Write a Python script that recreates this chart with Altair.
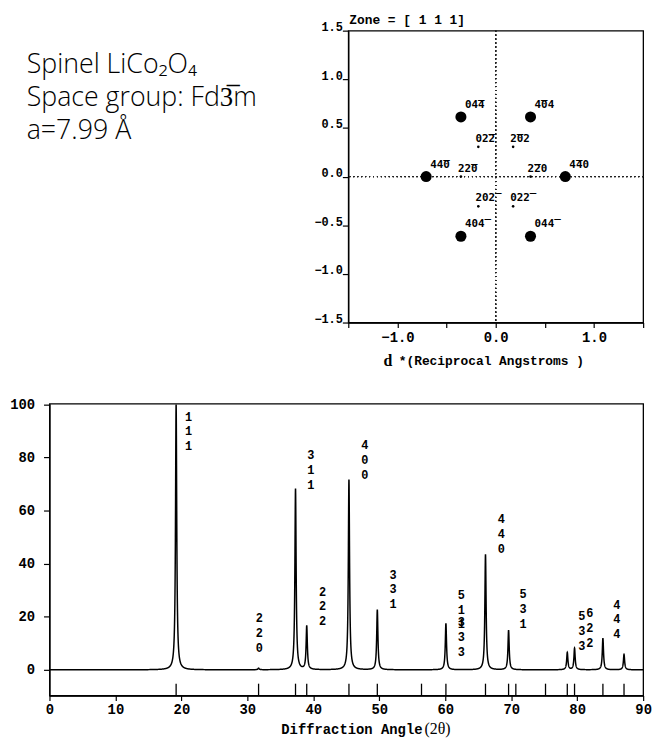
import numpy as np
import pandas as pd
import altair as alt

# ---------------- powder pattern (Cu K-alpha) ----------------
refl_hkl = ["111", "220", "311", "222", "400", "331", "422", "511",
            "440", "531", "442", "620", "533", "622", "444", "551"]
refl_2theta = [19.2, 31.7, 37.3, 39.0, 45.4, 49.7, 56.4, 60.1,
               66.1, 69.6, 70.7, 75.2, 78.5, 79.6, 83.9, 87.1]
refl_intensity = [100.0, 0.6, 68.2, 16.4, 71.7, 22.6, 0.0, 17.5,
                  43.5, 14.9, 0.0, 0.0, 6.5, 8.1, 11.9, 5.8]
peak_fwhm = 0.22  # degrees 2-theta, Lorentzian line width

# indexed labels printed next to the peaks (baseline of the top digit)
label_hkl = ["111", "220", "311", "222", "400", "331", "511", "333",
             "440", "531", "533", "622", "444"]
label_x = [21.1, 31.8, 39.6, 41.4, 47.8, 52.1, 62.45, 62.45,
           68.5, 71.8, 80.7, 81.9, 86.0]
label_y = [93.9, 17.9, 79.4, 28.0, 83.2, 34.4, 26.8, 16.4,
           55.2, 26.9, 18.6, 19.8, 23.1]

x_ticks = [0, 10, 20, 30, 40, 50, 60, 70, 80, 90]
y_ticks = [0, 20, 40, 60, 80, 100]

# ---------------- [111] zone reciprocal-lattice section ----------------
spot_hkl = [(0, -4, 4), (-4, 0, 4), (4, -4, 0), (-4, 4, 0), (4, 0, -4), (0, 4, -4),
            (0, -2, 2), (-2, 0, 2), (2, -2, 0), (-2, 2, 0), (2, 0, -2), (0, 2, -2)]
spot_x = [-0.354, 0.354, -0.708, 0.708, -0.354, 0.354,
          -0.177, 0.177, -0.354, 0.354, -0.177, 0.177]
spot_y = [0.613, 0.613, 0.0, 0.0, -0.613, -0.613,
          0.306, 0.306, 0.0, 0.0, -0.306, -0.306]
spot_kind = ["strong"] * 6 + ["weak"] * 6
zone_ticks = [-1.5, -1.0, -0.5, 0.0, 0.5, 1.0, 1.5]

MONO = "Liberation Mono"
OVERLINE = "\u0305"


def miller(idx):
    return "".join(str(abs(i)) + (OVERLINE if i < 0 else "") for i in idx)


# ---------------- build tables ----------------
tt = np.round(np.arange(0, 90.0001, 0.01), 3)
prof = np.zeros_like(tt)
for pos, amp in zip(refl_2theta, refl_intensity):
    prof += amp / (1.0 + ((tt - pos) / (peak_fwhm / 2.0)) ** 2)
profile_df = pd.DataFrame({"tt": tt, "I": prof})
refl_df = pd.DataFrame({"tt": refl_2theta, "hkl": refl_hkl})
label_df = pd.DataFrame({"x": label_x, "y": label_y,
                         "txt": ["\n".join(s) for s in label_hkl]})
spots_df = pd.DataFrame({"x": spot_x, "y": spot_y, "kind": spot_kind,
                         "label": [miller(s) for s in spot_hkl]})

# ---------------- diffraction pattern panel ----------------
xs = alt.Scale(domain=[0, 90], nice=False, zero=False)
ys = alt.Scale(domain=[-9.7, 100.3], nice=False, zero=False)
x_axis = alt.Axis(values=x_ticks, title="", tickSize=5, labelPadding=2,
                  labelFontSize=14, labelFlush=False)
y_axis = alt.Axis(values=y_ticks, title="", tickSize=6, labelPadding=9,
                  labelFontSize=14, labelBaseline="middle")

profile = alt.Chart(profile_df).mark_line(color="black", strokeWidth=1.5).encode(
    x=alt.X("tt:Q", scale=xs, axis=x_axis),
    y=alt.Y("I:Q", scale=ys, axis=y_axis),
)
refl_ticks = alt.Chart(refl_df).mark_rule(color="black", strokeWidth=1.3).encode(
    x=alt.X("tt:Q", scale=xs),
    y=alt.value(283),
    y2=alt.value(295),
)
hkl_labels = alt.Chart(label_df).mark_text(
    lineBreak="\n", lineHeight=15, align="center", baseline="alphabetic",
    font=MONO, fontWeight="bold", fontSize=12, color="black",
).encode(x=alt.X("x:Q", scale=xs), y=alt.Y("y:Q", scale=ys), text="txt:N")

xtitle_a = alt.Chart(pd.DataFrame({"t": ["Diffraction Angle"]})).mark_text(
    align="right", baseline="alphabetic", font=MONO, fontWeight="bold",
    fontSize=14, color="black",
).encode(x=alt.value(377), y=alt.value(334), text="t:N")
xtitle_b = alt.Chart(pd.DataFrame({"t": ["(2\u03b8)"]})).mark_text(
    align="left", baseline="alphabetic", font="Liberation Serif",
    fontSize=16, color="black",
).encode(x=alt.value(379), y=alt.value(334), text="t:N")

xrd = alt.layer(profile, refl_ticks, hkl_labels, xtitle_a, xtitle_b).properties(
    width=600, height=295)

# ---------------- zone panel ----------------
zx = alt.Scale(domain=[-1.5, 1.5], nice=False, zero=False)
zy = alt.Scale(domain=[-1.5, 1.5], nice=False, zero=False)
zx_axis = alt.Axis(values=zone_ticks, title="", tickSize=5, labelPadding=3,
                   labelFontSize=14, labelFlush=False,
                   labelExpr="datum.value % 1 == 0 ? format(datum.value, '.1f') : ''")
zy_axis = alt.Axis(values=zone_ticks, title="", tickSize=6, labelPadding=0,
                   labelFontSize=12, format=".1f", labelBaseline="alphabetic",
                   labelFlush=False)

zbase = alt.Chart(spots_df)
vline = zbase.mark_rule(color="#222", strokeWidth=1, strokeDash=[1, 3]).encode(
    x=alt.datum(0, scale=zx, axis=zx_axis))
hline = zbase.mark_rule(color="#222", strokeWidth=1, strokeDash=[1, 3]).encode(
    y=alt.datum(0, scale=zy, axis=zy_axis))
strong = zbase.transform_filter("datum.kind == 'strong'").mark_circle(
    size=125, color="black", opacity=1).encode(
    x=alt.X("x:Q", scale=zx, axis=zx_axis), y=alt.Y("y:Q", scale=zy, axis=zy_axis))
weak = zbase.transform_filter("datum.kind == 'weak'").mark_circle(
    size=7, color="black", opacity=1).encode(x="x:Q", y="y:Q")
strong_lab = zbase.transform_filter("datum.kind == 'strong'").mark_text(
    dx=14, dy=-12, align="center", baseline="middle", font="DejaVu Sans Mono",
    fontWeight="bold", fontSize=11, color="black").encode(
    x="x:Q", y="y:Q", text="label:N")
weak_lab = zbase.transform_filter("datum.kind == 'weak'").mark_text(
    dx=7, dy=-8, align="center", baseline="middle", font="DejaVu Sans Mono",
    fontWeight="bold", fontSize=11, color="black").encode(
    x="x:Q", y="y:Q", text="label:N")

zone_title = alt.Chart(pd.DataFrame({"t": ["Zone = [ 1  1  1]"]})).mark_text(
    align="left", baseline="alphabetic", font=MONO, fontWeight="bold",
    fontSize=13, color="black").encode(x=alt.value(1), y=alt.value(-7), text="t:N")
dstar = alt.Chart(pd.DataFrame({"t": ["d"]})).mark_text(
    align="center", baseline="middle", font="Liberation Serif", fontWeight="bold",
    fontSize=16, color="black").encode(x=alt.value(40), y=alt.value(39 + 295), text="t:N")
dstar_rest = alt.Chart(pd.DataFrame({"t": ["*(Reciprocal Angstroms )"]})).mark_text(
    align="left", baseline="middle", font=MONO, fontWeight="bold",
    fontSize=13, color="black").encode(x=alt.value(51), y=alt.value(39 + 295), text="t:N")

zone = alt.layer(hline, vline, strong, weak, strong_lab, weak_lab,
                 zone_title, dstar, dstar_rest).properties(width=298, height=295)

# ---------------- compound description ----------------
info = alt.Chart(pd.DataFrame({"t": ["Spinel LiCo\u2082O\u2084\nSpace group: Fd3\u0305m\na=7.99 \u00c5"]})).mark_text(
    lineBreak="\n", lineHeight=33.5, align="left", baseline="alphabetic",
    font="Open Sans", fontWeight=300, fontSize=27, color="black",
).encode(x=alt.value(-23), y=alt.value(43), text="t:N").properties(
    width=302, height=295, view=alt.ViewBackground(stroke="transparent"))

top = alt.hconcat(info, zone, spacing=0, bounds="flush")
chart = alt.vconcat(top, xrd, spacing=27, bounds="full").properties(
    padding={"left": 9, "top": 9, "right": 4, "bottom": 4},
    background="white",
).configure_view(stroke="black", strokeWidth=1.3).configure_axis(
    grid=False, labelFont=MONO, labelFontWeight="bold", labelColor="black",
    tickColor="black", domainColor="black", domainWidth=1.3, tickWidth=1.2,
)

chart.save("out.html", embed_options={"renderer": "svg", "actions": False})
